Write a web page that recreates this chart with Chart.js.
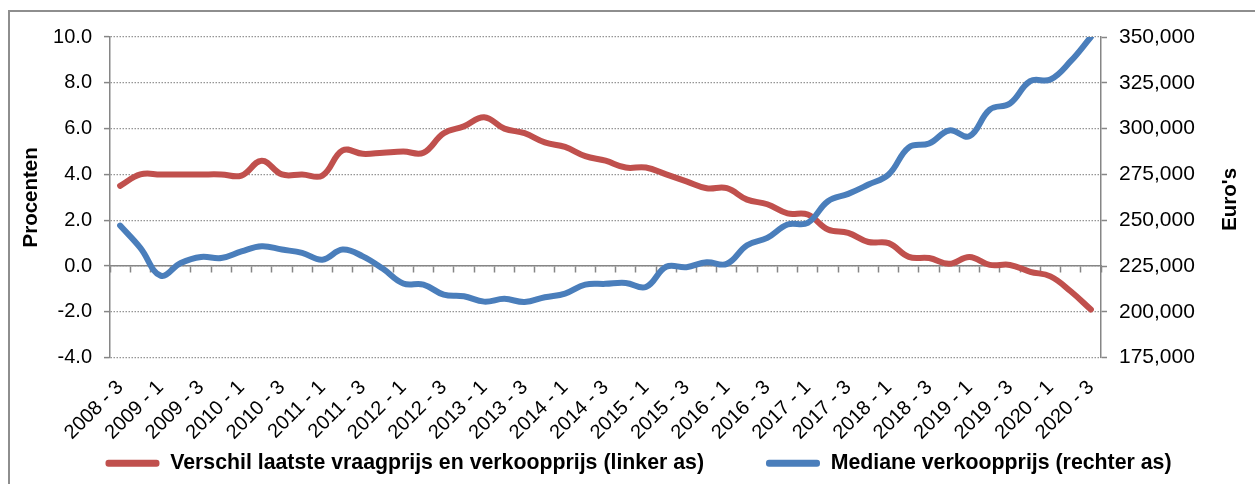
<!DOCTYPE html>
<html>
<head>
<meta charset="utf-8">
<script src="https://cdn.jsdelivr.net/npm/chart.js@4/dist/chart.umd.min.js"></script>
<style>
    html, body { margin: 0; padding: 0; background: #fff; overflow: hidden; }
    #wrap { position: relative; width: 1255px; height: 484px; }
    #frame {
        position: absolute; left: 8px; top: 10px; width: 1300px; height: 600px;
        border-top: 2px solid #8e8e8e; border-left: 2px solid #8e8e8e;
    }
    #chart { position: absolute; left: 0; top: 0; }
</style>
</head>
<body>
<div id="wrap">
    <div id="frame"></div>
    <canvas id="chart" width="1255" height="484"></canvas>
</div>
<script>
// quarters (year - quarter)
var quarters = [
    "2008 - 3", "2008 - 4",
    "2009 - 1", "2009 - 2", "2009 - 3", "2009 - 4",
    "2010 - 1", "2010 - 2", "2010 - 3", "2010 - 4",
    "2011 - 1", "2011 - 2", "2011 - 3", "2011 - 4",
    "2012 - 1", "2012 - 2", "2012 - 3", "2012 - 4",
    "2013 - 1", "2013 - 2", "2013 - 3", "2013 - 4",
    "2014 - 1", "2014 - 2", "2014 - 3", "2014 - 4",
    "2015 - 1", "2015 - 2", "2015 - 3", "2015 - 4",
    "2016 - 1", "2016 - 2", "2016 - 3", "2016 - 4",
    "2017 - 1", "2017 - 2", "2017 - 3", "2017 - 4",
    "2018 - 1", "2018 - 2", "2018 - 3", "2018 - 4",
    "2019 - 1", "2019 - 2", "2019 - 3", "2019 - 4",
    "2020 - 1", "2020 - 2", "2020 - 3"
];

// verschil laatste vraagprijs en verkoopprijs, procenten (linker as)
var verschil = [
    3.5, 4.0, 4.0, 4.0, 4.0, 4.0, 3.95, 4.6, 4.0, 4.0,
    3.95, 5.05, 4.9, 4.95, 5.0, 4.95, 5.8, 6.1, 6.5, 6.0,
    5.8, 5.4, 5.2, 4.8, 4.6, 4.3, 4.3, 4.0, 3.7, 3.4,
    3.4, 2.9, 2.7, 2.3, 2.25, 1.6, 1.45, 1.05, 1.0, 0.4,
    0.35, 0.1, 0.4, 0.05, 0.05, -0.25, -0.45, -1.1, -1.9
];

// mediane verkoopprijs, euro's (rechter as)
var mediaan = [
    247100, 234900, 219800, 226700, 230000, 229400, 233000, 235800, 234000, 232200,
    228500, 234000, 230300, 223500, 215500, 214900, 209400, 208500, 205600, 207100,
    205400, 208000, 210000, 214900, 215300, 215800, 213600, 224600, 224400, 227100,
    226200, 236400, 240400, 247700, 248600, 260400, 264400, 269500, 275000, 289800,
    291900, 299000, 295900, 310400, 313700, 325900, 326800, 336800, 350000
];

var seriesNames = [
    "Verschil laatste vraagprijs en verkoopprijs (linker as)",
    "Mediane verkoopprijs (rechter as)"
];
var leftAxisTitle = "Procenten";
var rightAxisTitle = "Euro's";

const fontFamily = "'Liberation Sans', Arial, sans-serif";
const axisGrey = '#868686';
const red = '#C0504D';
const blue = '#4A7EBB';

Chart.defaults.font.family = fontFamily;
Chart.defaults.color = '#000';

// Excel draws the right title bottom-to-top, like the left one
const rightTitlePlugin = {
    id: 'rightTitle',
    afterDraw(chart) {
        const s = chart.scales.y2;
        const ctx = chart.ctx;
        ctx.save();
        ctx.translate(s.right - 19.5, (s.top + s.bottom) / 2 + 2);
        ctx.rotate(-Math.PI / 2);
        ctx.font = 'bold 20.5px ' + fontFamily;
        ctx.fillStyle = '#000';
        ctx.textAlign = 'center';
        ctx.textBaseline = 'middle';
        ctx.fillText(rightAxisTitle, 0, 0);
        ctx.restore();
    }
};

// slanted labels run into the (empty) top padding of the legend box,
// so don't let the x scale clip them; legend sits a bit right of centre
const layoutNudge = {
    id: 'layoutNudge',
    afterLayout(chart) {
        chart.scales.x.bottom = chart.height;
        chart.legend.left += 11;
        chart.legend.right += 11;
    }
};

const ctx = document.getElementById('chart').getContext('2d');
const chart = new Chart(ctx, {
    type: 'line',
    data: {
        labels: quarters,
        datasets: [{
            label: seriesNames[0],
            data: verschil,
            yAxisID: 'y',
            borderColor: red,
            backgroundColor: red,
            borderWidth: 6,
            pointRadius: 0,
            tension: 0.4,
            borderCapStyle: 'round',
            borderJoinStyle: 'round',
            order: 1
        }, {
            label: seriesNames[1],
            data: mediaan,
            yAxisID: 'y2',
            borderColor: blue,
            backgroundColor: blue,
            borderWidth: 6,
            pointRadius: 0,
            tension: 0.4,
            borderCapStyle: 'round',
            borderJoinStyle: 'round',
            order: 0
        }]
    },
    options: {
        responsive: false,
        devicePixelRatio: 1,
        animation: false,
        events: [],
        layout: {
            padding: { top: 37, left: 5, right: 5, bottom: 0 }
        },
        plugins: {
            tooltip: { enabled: false },
            legend: {
                position: 'bottom',
                labels: {
                    font: { size: 21.3, weight: 'bold' },
                    color: '#000',
                    boxWidth: 54,
                    boxHeight: 7,
                    padding: 62,
                    sort: (a, b) => a.datasetIndex - b.datasetIndex,
                    generateLabels: function (chart) {
                        const items = Chart.defaults.plugins.legend.labels.generateLabels(chart);
                        items.forEach(function (it) {
                            it.lineWidth = 0;
                            it.fillStyle = it.strokeStyle;
                            it.borderRadius = 3;
                        });
                        return items;
                    }
                }
            }
        },
        scales: {
            x: {
                type: 'category',
                position: 'bottom',
                offset: true,
                grid: { display: false, drawTicks: false },
                border: { display: false },
                ticks: {
                    autoSkip: false,
                    maxRotation: 45,
                    minRotation: 45,
                    padding: 18,
                    font: { size: 20 },
                    callback: function (value, index) {
                        return index % 2 === 0 ? this.getLabelForValue(value) : '';
                    }
                },
                afterFit: function (scale) { scale.height = 33; }
            },
            // horizontal axis crossing at 0 with its tick marks
            x2: {
                type: 'category',
                position: { y: 0 },
                offset: true,
                grid: {
                    offset: true,
                    drawOnChartArea: false,
                    drawTicks: true,
                    tickLength: 6,
                    tickColor: axisGrey,
                    tickWidth: 1.5
                },
                border: { color: axisGrey, width: 1.5 },
                ticks: { display: false, autoSkip: false }
            },
            y: {
                position: 'left',
                min: -4,
                max: 10,
                grid: {
                    z: -1,
                    color: '#959595',
                    lineWidth: 1.2,
                    tickLength: 6,
                    tickColor: axisGrey,
                    tickWidth: 1.5,
                    tickBorderDash: []
                },
                border: { color: axisGrey, width: 1.5, dash: [1.5, 1.5] },
                ticks: {
                    stepSize: 2,
                    padding: 12,
                    font: { size: 20 },
                    callback: (v) => v.toFixed(1)
                },
                title: {
                    display: true,
                    text: leftAxisTitle,
                    font: { size: 20.5, weight: 'bold' },
                    padding: { top: 14, bottom: 0 }
                },
                afterFit: function (scale) { scale.width = 105; }
            },
            y2: {
                position: 'right',
                min: 175000,
                max: 350000,
                grid: {
                    drawOnChartArea: false,
                    tickLength: 6,
                    tickColor: axisGrey,
                    tickWidth: 1.5
                },
                border: { color: axisGrey, width: 1.5 },
                ticks: {
                    stepSize: 25000,
                    padding: 12,
                    font: { size: 21 },
                    callback: (v) => v.toLocaleString('en-US')
                },
                afterFit: function (scale) { scale.width = 149; }
            }
        }
    },
    plugins: [rightTitlePlugin, layoutNudge]
});
</script>
</body>
</html>
